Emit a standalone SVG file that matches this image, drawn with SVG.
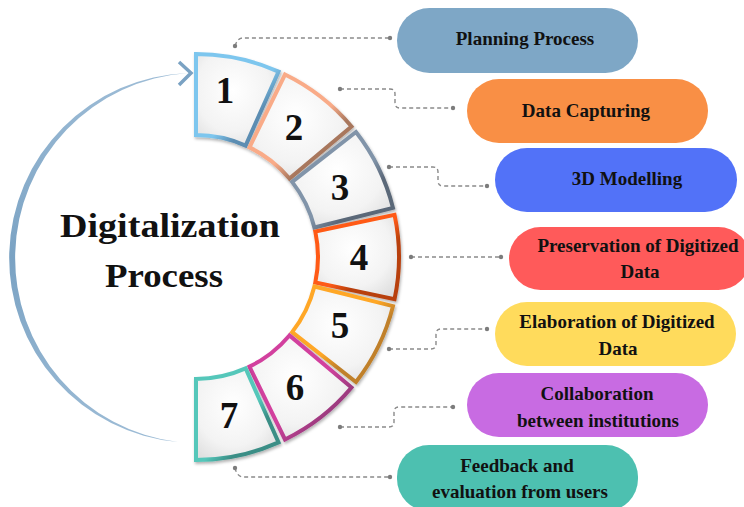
<svg xmlns="http://www.w3.org/2000/svg" width="744" height="507" viewBox="0 0 744 507">
  <defs>
    <style>
      .num { font-family: "Liberation Serif", "Times New Roman", serif; font-weight: bold; font-size: 37px; fill: #111; text-anchor: middle; }
      .title { font-family: "Liberation Serif", "Times New Roman", serif; font-weight: bold; font-size: 34px; fill: #111; text-anchor: middle; }
      .lbl { font-family: "Liberation Serif", "Times New Roman", serif; font-weight: bold; font-size: 19px; fill: #111; text-anchor: middle; }
      .seg { stroke-width: 4; stroke-linejoin: miter; filter: url(#shadow); }
      .conn { fill: none; stroke: #8a8a8a; stroke-width: 1.4; stroke-dasharray: 4 3; }
      .dot { fill: #7c7c7c; }
    </style>
    <filter id="shadow" x="-20%" y="-20%" width="140%" height="140%">
      <feDropShadow dx="1" dy="2" stdDeviation="1.6" flood-color="#000" flood-opacity="0.3"/>
    </filter>
    <radialGradient id="segFill" cx="0.45" cy="0.4" r="0.75">
      <stop offset="0" stop-color="#ffffff"/>
      <stop offset="0.6" stop-color="#f3f3f3"/>
      <stop offset="1" stop-color="#dadada"/>
    </radialGradient>
    <linearGradient id="arcFill" x1="0" y1="0" x2="0" y2="1">
      <stop offset="0" stop-color="#9dbcd6"/>
      <stop offset="0.5" stop-color="#7aa2c3"/>
      <stop offset="1" stop-color="#9dbcd6"/>
    </linearGradient>
    <!-- edge colours: lit top-left, shaded bottom-right -->
    <linearGradient id="s1" x1="0" y1="0" x2="1" y2="1">
      <stop offset="0.55" stop-color="#7dc6ee"/><stop offset="0.7" stop-color="#5b8db2"/>
    </linearGradient>
    <linearGradient id="s2" x1="0" y1="0" x2="1" y2="1">
      <stop offset="0.55" stop-color="#f9ab88"/><stop offset="0.7" stop-color="#a8775d"/>
    </linearGradient>
    <linearGradient id="s3" x1="0" y1="0" x2="1" y2="1">
      <stop offset="0.55" stop-color="#8194a9"/><stop offset="0.7" stop-color="#5a6778"/>
    </linearGradient>
    <linearGradient id="s4" x1="0" y1="0" x2="1" y2="1">
      <stop offset="0.5" stop-color="#ff5a14"/><stop offset="0.65" stop-color="#b8400f"/>
    </linearGradient>
    <linearGradient id="s5" x1="0" y1="0" x2="1" y2="1">
      <stop offset="0.5" stop-color="#ffa726"/><stop offset="0.65" stop-color="#c0802a"/>
    </linearGradient>
    <linearGradient id="s6" x1="0" y1="0" x2="1" y2="1">
      <stop offset="0.55" stop-color="#d2419e"/><stop offset="0.75" stop-color="#9e3a80"/>
    </linearGradient>
    <linearGradient id="s7" x1="0" y1="0" x2="1" y2="1">
      <stop offset="0.55" stop-color="#55c7ba"/><stop offset="0.7" stop-color="#3a8e86"/>
    </linearGradient>
  </defs>

  <rect width="744" height="507" fill="#ffffff"/>

  <!-- cycle arrow around the centre title -->
  <g id="cycle-arrow">
    <path d="M188,73 A184.9,184.9 0 0 0 178,442 A185.4,185.4 0 0 1 188,73 Z" fill="url(#arcFill)"/>
    <polyline points="179,62 191,73 179,85" fill="none" stroke="#7aa2c3" stroke-width="3.5" stroke-linejoin="miter"/>
  </g>

  <g id="title">
    <text class="title" x="170" y="237" textLength="220" lengthAdjust="spacingAndGlyphs">Digitalization</text>
    <text class="title" x="164" y="287" textLength="118" lengthAdjust="spacingAndGlyphs">Process</text>
  </g>

  <!-- connectors -->
  <g id="connectors">
    <path class="conn" d="M235,46 Q237,39 242,38 H390"/>
    <path class="conn" d="M340,89 H390 Q395,89 395,94 V103 Q395,108 400,108 H453"/>
    <path class="conn" d="M389,167 H433 Q438,167 438,172 V181 Q438,186 443,186 H487"/>
    <path class="conn" d="M411,257 H501"/>
    <path class="conn" d="M389,349 H431 Q436,349 436,344 V334 Q436,329 441,329 H487"/>
    <path class="conn" d="M340,427 H389 Q394,427 394,422 V412 Q394,407 399,407 H453"/>
    <path class="conn" d="M235,468 Q237,477 244,477 H390"/>
    <circle class="dot" cx="235" cy="46" r="2.2"/><circle class="dot" cx="390" cy="38" r="2.2"/>
    <circle class="dot" cx="340" cy="89" r="2.2"/><circle class="dot" cx="453" cy="108" r="2.2"/>
    <circle class="dot" cx="389" cy="167" r="2.2"/><circle class="dot" cx="487" cy="186" r="2.2"/>
    <circle class="dot" cx="411" cy="257" r="2.2"/><circle class="dot" cx="501" cy="257" r="2.2"/>
    <circle class="dot" cx="389" cy="349" r="2.2"/><circle class="dot" cx="487" cy="329" r="2.2"/>
    <circle class="dot" cx="340" cy="427" r="2.2"/><circle class="dot" cx="453" cy="407" r="2.2"/>
    <circle class="dot" cx="235" cy="468" r="2.2"/><circle class="dot" cx="390" cy="477" r="2.2"/>
  </g>

  <!-- ring segments: centre (196,257), radii 122 / 203 -->
  <g id="step-1">
    <path class="seg" fill="url(#segFill)" stroke="url(#s1)" d="M196,54 A203,203 0 0 1 278.56,71.56 L245.62,145.55 A122,122 0 0 0 196,135 Z"/>
    <text class="num" x="225" y="103">1</text>
  </g>
  <g id="step-2">
    <path class="seg" fill="url(#segFill)" stroke="url(#s2)" d="M285,74.54 A203,203 0 0 1 351.5,126.51 L289.45,178.58 A122,122 0 0 0 249.48,147.35 Z"/>
    <text class="num" x="294" y="140">2</text>
  </g>
  <g id="step-3">
    <path class="seg" fill="url(#segFill)" stroke="url(#s3)" d="M355.96,132.01 A203,203 0 0 1 392.97,207.89 L314.38,227.49 A122,122 0 0 0 292.14,181.88 Z"/>
    <text class="num" x="340" y="200">3</text>
  </g>
  <g id="step-4">
    <path class="seg" fill="url(#segFill)" stroke="url(#s4)" d="M394.55,214.8 A203,203 0 0 1 394.55,299.2 L315.33,282.36 A122,122 0 0 0 315.33,231.64 Z"/>
    <text class="num" x="359" y="270">4</text>
  </g>
  <g id="step-5">
    <path class="seg" fill="url(#segFill)" stroke="url(#s5)" d="M392.97,306.11 A203,203 0 0 1 355.96,381.99 L292.14,332.12 A122,122 0 0 0 314.38,286.51 Z"/>
    <text class="num" x="340" y="338">5</text>
  </g>
  <g id="step-6">
    <path class="seg" fill="url(#segFill)" stroke="url(#s6)" d="M351.5,387.49 A203,203 0 0 1 285,439.46 L249.48,366.65 A122,122 0 0 0 289.45,335.42 Z"/>
    <text class="num" x="295" y="400">6</text>
  </g>
  <g id="step-7">
    <path class="seg" fill="url(#segFill)" stroke="url(#s7)" d="M278.56,442.44 A203,203 0 0 1 196,460 L196,379 A122,122 0 0 0 245.62,368.45 Z"/>
    <text class="num" x="229" y="428">7</text>
  </g>

  <!-- labels -->
  <g id="label-1">
    <rect x="397" y="8" width="241" height="65" rx="32.5" fill="#7ea7c6"/>
    <text class="lbl" x="525" y="45">Planning Process</text>
  </g>
  <g id="label-2">
    <rect x="467" y="79" width="241" height="64" rx="32" fill="#f98f45"/>
    <text class="lbl" x="586" y="117">Data Capturing</text>
  </g>
  <g id="label-3">
    <rect x="495" y="148" width="242" height="64" rx="32" fill="#5272f8"/>
    <text class="lbl" x="627" y="185">3D Modelling</text>
  </g>
  <g id="label-4">
    <rect x="509" y="227" width="241" height="63" rx="31.5" fill="#ff5a5a"/>
    <text class="lbl" x="638" y="252">Preservation of Digitized</text>
    <text class="lbl" x="640" y="278">Data</text>
  </g>
  <g id="label-5">
    <rect x="495" y="302" width="241" height="64" rx="32" fill="#ffdb5c"/>
    <text class="lbl" x="617" y="328">Elaboration of Digitized</text>
    <text class="lbl" x="618" y="355">Data</text>
  </g>
  <g id="label-6">
    <rect x="467" y="373" width="241" height="64" rx="32" fill="#c86be2"/>
    <text class="lbl" x="597" y="400">Collaboration</text>
    <text class="lbl" x="598" y="427">between institutions</text>
  </g>
  <g id="label-7">
    <rect x="397" y="445" width="241" height="66" rx="32" fill="#4dc0b0"/>
    <text class="lbl" x="517" y="472">Feedback and</text>
    <text class="lbl" x="520" y="498">evaluation from users</text>
  </g>
</svg>
